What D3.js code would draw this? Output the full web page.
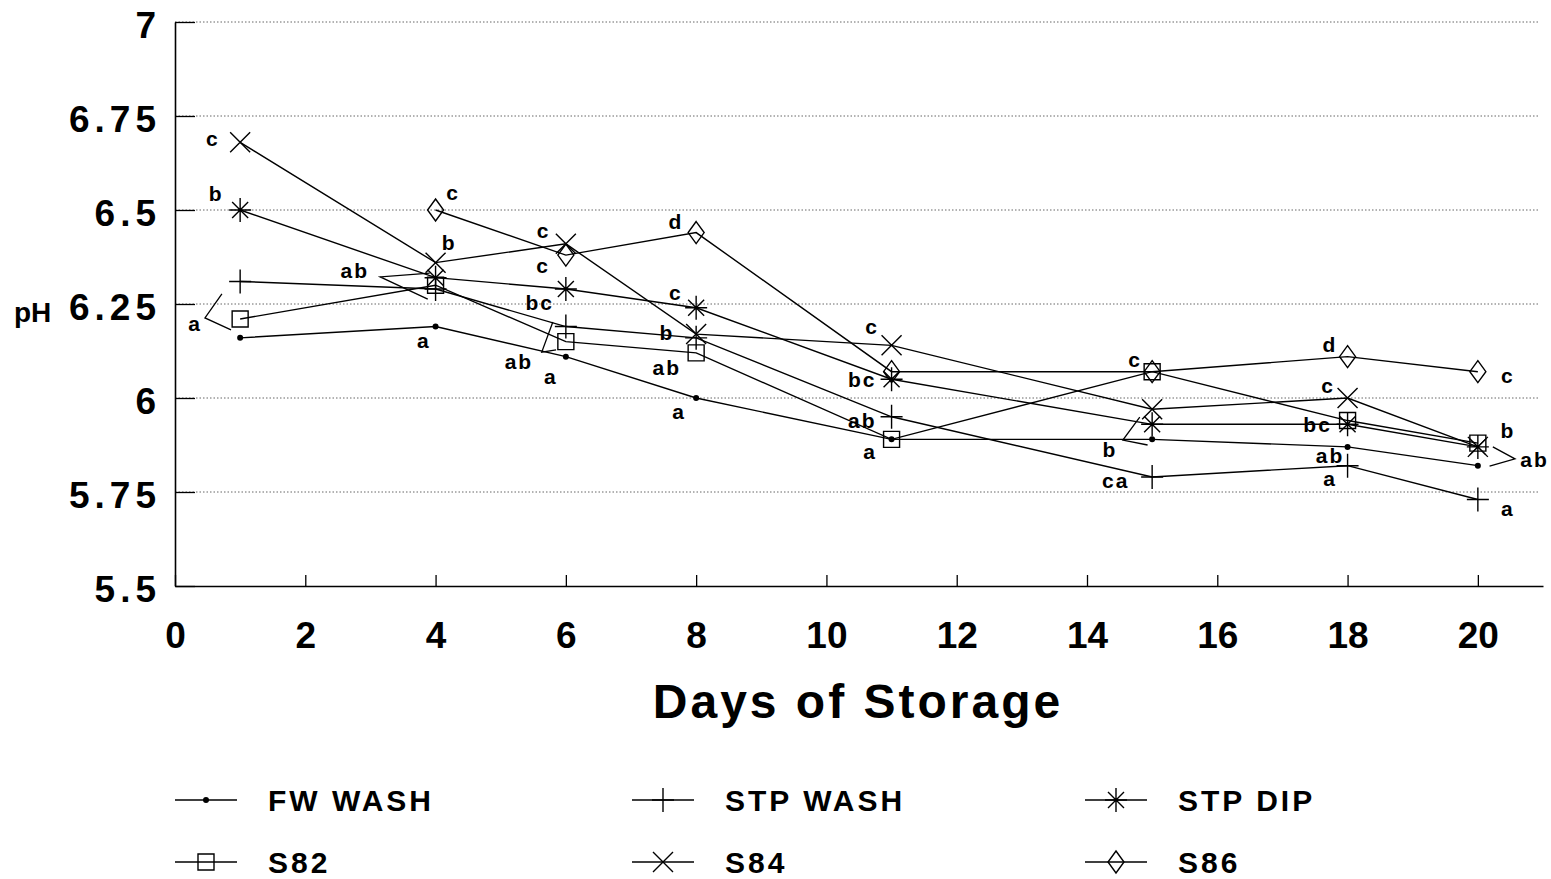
<!DOCTYPE html>
<head>
  <meta charset="utf-8">
  <style>
    body { margin: 0; background: #fff; }
    svg text { fill: #000; }
    .yax .tick text { font-family: "Liberation Sans", sans-serif; font-weight: bold; font-size: 37px; letter-spacing: 5px; }
    .xax .tick text { font-family: "Liberation Sans", sans-serif; font-weight: bold; font-size: 37px; }
    .grid line { stroke: #666; stroke-width: 1; stroke-dasharray: 1.5,2; }
    .series path { fill: none; stroke: #000; stroke-width: 1.4; }
    .sig { font-family: "Liberation Sans", sans-serif; font-weight: bold; font-size: 21px; letter-spacing: 2px; text-anchor: middle; }
    .legend text { font-family: "Liberation Sans", sans-serif; font-weight: bold; font-size: 30px; letter-spacing: 3px; }
  </style>
</head>
<body>
  <svg width="1551" height="879"></svg>
  <script src="https://d3js.org/d3.v7.min.js"></script>
  <script>

  // storage days and pH means per treatment
  var days = [1, 4, 6, 8, 11, 15, 18, 20];
  var fwWash  = [6.16, 6.19, 6.11, 6.00, 5.89, 5.89, 5.87, 5.82];
  var stpWash = [6.31, 6.29, 6.19, 6.16, 5.95, 5.79, 5.82, 5.73];
  var stpDip  = [6.50, 6.32, 6.29, 6.24, 6.05, 5.93, 5.93, 5.87];
  var s82     = [6.21, 6.30, 6.15, 6.12, 5.89, 6.07, 5.94, 5.88];
  var s84     = [6.68, 6.36, 6.41, 6.17, 6.14, 5.97, 6.00, 5.87];
  var s86     = [null, 6.50, 6.38, 6.44, 6.07, 6.07, 6.11, 6.07];

  var seriesNames = ["FW WASH", "STP WASH", "STP DIP", "S82", "S84", "S86"];
  var seriesMarks = ["dot", "plus", "star", "square", "cross", "diamond"];
  var seriesValues = [fwWash, stpWash, stpDip, s82, s84, s86];

  var yTicks = [5.5, 5.75, 6, 6.25, 6.5, 6.75, 7];
  var xTicks = [0, 2, 4, 6, 8, 10, 12, 14, 16, 18, 20];

  // significance letters, placed at [day, pH]
  var sigLabels = [
    [0.58, 6.689, "c"], [0.63, 6.543, "b"], [0.31, 6.199, "a"],
    [4.27, 6.545, "c"], [4.21, 6.412, "b"], [2.76, 6.338, "ab"], [3.82, 6.152, "a"],
    [5.66, 6.444, "c"], [5.65, 6.351, "c"], [5.60, 6.253, "bc"], [5.28, 6.096, "ab"], [5.77, 6.056, "a"],
    [7.69, 6.468, "d"], [7.69, 6.279, "c"], [7.55, 6.173, "b"], [7.55, 6.082, "ab"], [7.74, 5.963, "a"],
    [10.70, 6.189, "c"], [10.55, 6.048, "bc"], [10.55, 5.939, "ab"], [10.67, 5.856, "a"],
    [14.74, 6.101, "c"], [14.35, 5.862, "b"], [14.44, 5.779, "ca"],
    [17.73, 6.141, "d"], [17.70, 6.032, "c"], [17.54, 5.928, "bc"], [17.73, 5.848, "ab"], [17.73, 5.785, "a"],
    [20.46, 6.059, "c"], [20.46, 5.912, "b"], [20.87, 5.835, "ab"], [20.46, 5.707, "a"]
  ];
  // brackets joining a letter to several points
  var brackets = [
    [[0.72, 6.277], [0.46, 6.213], [0.86, 6.181]],
    [[3.91, 6.332], [3.15, 6.322], [3.88, 6.263]],
    [[5.80, 6.202], [5.63, 6.122], [5.85, 6.128]],
    [[14.81, 5.949], [14.55, 5.888], [14.93, 5.875]],
    [[20.23, 5.870], [20.57, 5.838], [20.18, 5.819]]
  ];

  var svg = d3.select("svg");
  var mLeft = 175, mRight = 1543, mTop = 22, mBottom = 586;

  var x = d3.scaleLinear().domain([0, 21]).range([mLeft, mRight]);
  var y = d3.scaleLinear().domain([5.5, 7]).range([mBottom, mTop]);

  // dotted grid
  svg.append("g").attr("class", "grid")
    .selectAll("line").data(yTicks.slice(1)).enter().append("line")
      .attr("x1", mLeft).attr("x2", 1540)
      .attr("y1", function(d) { return y(d); })
      .attr("y2", function(d) { return y(d); });

  var yAxis = svg.append("g")
    .attr("class", "yax")
    .attr("transform", "translate(" + mLeft + ",0)")
    .call(d3.axisLeft(y).tickValues(yTicks).tickFormat(function(d) { return String(d); })
      .tickSize(-20).tickSizeOuter(0).tickPadding(14));
  yAxis.selectAll(".tick text").attr("dy", "0.42em");

  var xAxis = svg.append("g")
    .attr("class", "xax")
    .attr("transform", "translate(0," + mBottom + ")")
    .call(d3.axisBottom(x).tickValues(xTicks).tickFormat(function(d) { return String(d); })
      .tickSize(-11).tickSizeOuter(0).tickPadding(36));

  svg.selectAll(".domain").attr("stroke", "#000").attr("stroke-width", 1.6);
  svg.selectAll(".tick line").attr("stroke", "#000").attr("stroke-width", 1.3);

  svg.append("text")
    .attr("x", 858).attr("y", 718)
    .attr("text-anchor", "middle")
    .style("font-family", "Liberation Sans, sans-serif")
    .style("font-weight", "bold")
    .style("font-size", "48px")
    .style("letter-spacing", "3px")
    .text("Days of Storage");

  svg.append("text")
    .attr("x", 14).attr("y", 322)
    .style("font-family", "Liberation Sans, sans-serif")
    .style("font-weight", "bold")
    .style("font-size", "28px")
    .text("pH");

  function marker(g, type) {
    var p = d3.path();
    if (type === "dot") {
      g.append("circle").attr("r", 3).attr("fill", "#000");
      return;
    }
    if (type === "plus") {
      p.moveTo(-11, 0); p.lineTo(11, 0); p.moveTo(0, -12); p.lineTo(0, 12);
    } else if (type === "cross") {
      p.moveTo(-10, -10); p.lineTo(10, 10); p.moveTo(-10, 10); p.lineTo(10, -10);
    } else if (type === "star") {
      p.moveTo(-11, 0); p.lineTo(11, 0); p.moveTo(0, -12); p.lineTo(0, 12);
      p.moveTo(-8, -8); p.lineTo(8, 8); p.moveTo(-8, 8); p.lineTo(8, -8);
    } else if (type === "square") {
      p.rect(-8, -8, 16, 16);
    } else if (type === "diamond") {
      p.moveTo(0, -11); p.lineTo(8, 0); p.lineTo(0, 11); p.lineTo(-8, 0); p.closePath();
    }
    g.append("path").attr("d", p.toString())
      .attr("fill", "none")
      .attr("stroke", "#000").attr("stroke-width", 1.4);
  }

  var line = d3.line()
    .defined(function(d) { return d[1] != null; })
    .x(function(d) { return x(d[0]); })
    .y(function(d) { return y(d[1]); });

  seriesValues.forEach(function(vals, i) {
    var pts = days.map(function(d, j) { return [d, vals[j]]; });
    var g = svg.append("g").attr("class", "series");
    g.append("path").attr("d", line(pts));
  });
  seriesValues.forEach(function(vals, i) {
    days.forEach(function(d, j) {
      if (vals[j] == null) return;
      var m = svg.append("g").attr("transform", "translate(" + x(d) + "," + y(vals[j]) + ")");
      marker(m, seriesMarks[i]);
    });
  });

  svg.selectAll(".sig").data(sigLabels).enter().append("text")
    .attr("class", "sig")
    .attr("x", function(d) { return x(d[0]); })
    .attr("y", function(d) { return y(d[1]); })
    .attr("dy", "0.35em")
    .text(function(d) { return d[2]; });

  var bline = d3.line().x(function(d) { return x(d[0]); }).y(function(d) { return y(d[1]); });
  svg.selectAll(".bracket").data(brackets).enter().append("path")
    .attr("class", "bracket")
    .attr("d", bline)
    .attr("fill", "none").attr("stroke", "#000").attr("stroke-width", 1.3);

  // legend, three per row
  var legend = svg.append("g").attr("class", "legend");
  seriesNames.forEach(function(name, i) {
    var lx = [175, 632, 1085][i % 3], ly = 800 + Math.floor(i / 3) * 62;
    var g = legend.append("g").attr("transform", "translate(" + lx + "," + ly + ")");
    g.append("line").attr("x1", 0).attr("x2", 62).attr("stroke", "#000").attr("stroke-width", 1.4);
    var m = g.append("g").attr("transform", "translate(31,0)");
    marker(m, seriesMarks[i]);
    g.append("text").attr("x", 93).attr("y", 11).text(name);
  });

  </script>
</body>
</html>
